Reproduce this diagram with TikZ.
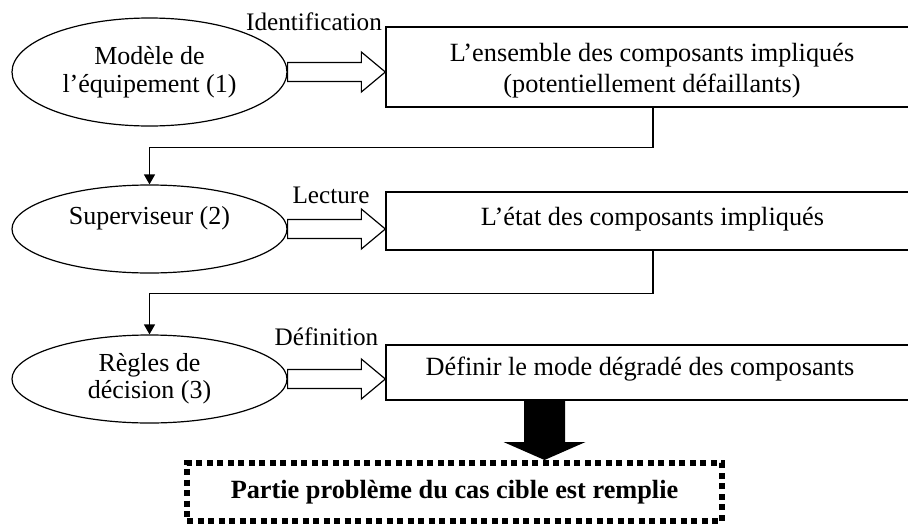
\documentclass[tikz,border=0pt]{standalone}
\usepackage{fontspec}
\setmainfont{Liberation Serif}
\usetikzlibrary{shapes.geometric,arrows.meta,calc}
\begin{document}
\begin{tikzpicture}[x=1pt,y=-1pt,
  ell/.style={draw,ellipse,line width=1.2pt,inner sep=0pt,minimum width=275pt,align=center,font=\fontsize{26}{28}\selectfont},
  boxst/.style={draw,rectangle,line width=1.3pt,minimum width=534pt,inner sep=0pt},
  txt/.style={font=\fontsize{26.3}{31}\selectfont,align=center,inner sep=0pt},
  lbl/.style={font=\fontsize{25.2}{28}\selectfont,inner sep=0pt,anchor=base},
  hollow/.style={draw,fill=white,line width=1.2pt,line join=miter},
  conn/.style={draw,line width=1.2pt,-{Triangle[length=10pt,width=11pt]}},
  goalbox/.style={draw,line width=6pt,dash pattern=on 6pt off 4.5pt,minimum width=535pt,minimum height=58pt,inner sep=0pt,font=\fontsize{26.3}{30}\selectfont\bfseries},
]
\useasboundingbox (0,0) rectangle (908,525);

% ellipses
\node[ell,minimum height=108pt] (e1) at (149.5,72) {Modèle de\\l’équipement (1)};
\node[ell,minimum height=88pt,text depth=28pt] (e2) at (149.5,229) {Superviseur (2)};
\node[ell,minimum height=88pt,font=\fontsize{26}{27}\selectfont] (e3) at (149.5,379) {Règles de\\décision (3)};

% boxes
\node[boxst,minimum height=80pt] (b1) at (653,67) {};
\node[boxst,minimum height=58pt] (b2) at (653,221) {};
\node[boxst,minimum height=55pt] (b3) at (653,372.5) {};
\node[txt] (t1) at (652,70.5) {L’ensemble des composants impliqués\\(potentiellement défaillants)};
\node[txt,anchor=base] (t2) at (652.5,225) {L’état des composants impliqués};
\node[txt,anchor=base] (t3) at (640,375) {Définir le mode dégradé des composants};

% hollow arrows
\foreach \e/\b/\h in {e1/b1/h1,e2/b2/h2,e3/b3/h3}{
  \coordinate (\h) at (\b.west |- \e.east);
  \draw[hollow] ($(\e.east)+(0,-9.5)$) -- ($(\h)+(-24,-9.5)$) -- ($(\h)+(-24,-20)$) -- (\h)
    -- ($(\h)+(-24,20)$) -- ($(\h)+(-24,9.5)$) -- ($(\e.east)+(0,9.5)$) -- cycle;
}
\node[lbl] (l1) at (314,30) {Identification};
\node[lbl] (l2) at (331,203) {Lecture};
\node[lbl] (l3) at (326.5,345) {Définition};

% connectors
\draw[conn] (b1.south) -- ++(0,40) -| (e2.north);
\draw[conn] (b2.south) -- ++(0,43) -| (e3.north);

% goal box
\node[goalbox] (goal) at (454.5,492) {Partie problème du cas cible est remplie};

% black arrow
\coordinate (bs) at ($(b3.south)+(-108.5,0)$);
\coordinate (bt) at (bs |- goal.north);
\fill ($(bs)+(-20.5,0)$) -- ($(bs)+(20.5,0)$) -- ($(bt)+(20.5,-18)$) -- ($(bt)+(41,-18)$) -- (bt)
  -- ($(bt)+(-41,-18)$) -- ($(bt)+(-20.5,-18)$) -- cycle;
\end{tikzpicture}
\end{document}
